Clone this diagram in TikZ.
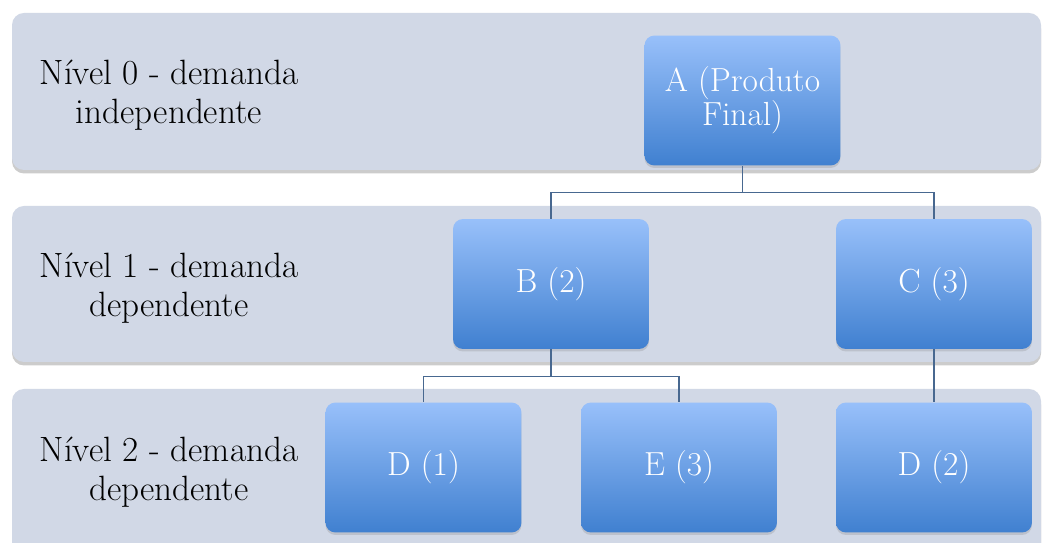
\documentclass[tikz,border=0pt]{standalone}
\usetikzlibrary{shadows}
\definecolor{corfaixa}{RGB}{209,216,230}
\definecolor{caixatopo}{RGB}{152,192,250}
\definecolor{caixabase}{RGB}{64,128,208}
\definecolor{corligacao}{RGB}{72,104,144}
\begin{document}
\begin{tikzpicture}[x=0.02cm,y=-0.02cm,
    faixa/.style={fill=corfaixa, rounded corners=0.24cm,
      drop shadow={shadow xshift=0pt, shadow yshift=-0.07cm, opacity=0.4}},
    caixa/.style={rectangle, rounded corners=0.2cm, minimum width=3.92cm,
      minimum height=2.6cm, top color=caixatopo, bottom color=caixabase,
      text=white, align=center, font=\fontsize{19}{19.5}\selectfont,
      drop shadow={shadow xshift=0pt, shadow yshift=-0.05cm, opacity=0.25}},
    rotulo/.style={align=center, font=\fontsize{20}{22}\selectfont},
    ligacao/.style={draw=corligacao, line width=0.7pt}]
      \clip (0,0) rectangle (1042,543);
      \fill[white] (0,0) rectangle (1042,543);

      \path[faixa] (12,13) rectangle (1041,170);
      \path[faixa] (12,206) rectangle (1041,362);
      \path[faixa] (12,389) rectangle (1041,580);

      \node[rotulo] (nivel0) at (169,95) {Nível 0 - demanda\\independente};
      \node[rotulo] (nivel1) at (169,288) {Nível 1 - demanda\\dependente};
      \node[rotulo] (nivel2) at (169,472) {Nível 2 - demanda\\dependente};

      \node[caixa] (A) at (742.5,100.5) {A (Produto\\Final)};
      \node[caixa] (B) at (551,284) {B (2)};
      \node[caixa] (C) at (934,284) {C (3)};
      \node[caixa] (D1) at (423.5,467.5) {D (1)};
      \node[caixa] (E) at (679,467.5) {E (3)};
      \node[caixa] (D2) at (934,467.5) {D (2)};

      \draw[ligacao] (A.south) -- ++(0,27) coordinate (barraA);
      \draw[ligacao] (barraA) -| (B.north);
      \draw[ligacao] (barraA) -| (C.north);

      \draw[ligacao] (B.south) -- ++(0,27) coordinate (barraB);
      \draw[ligacao] (barraB) -| (D1.north);
      \draw[ligacao] (barraB) -| (E.north);

      \draw[ligacao] (C.south) -- (D2.north);
    \end{tikzpicture}
\end{document}
